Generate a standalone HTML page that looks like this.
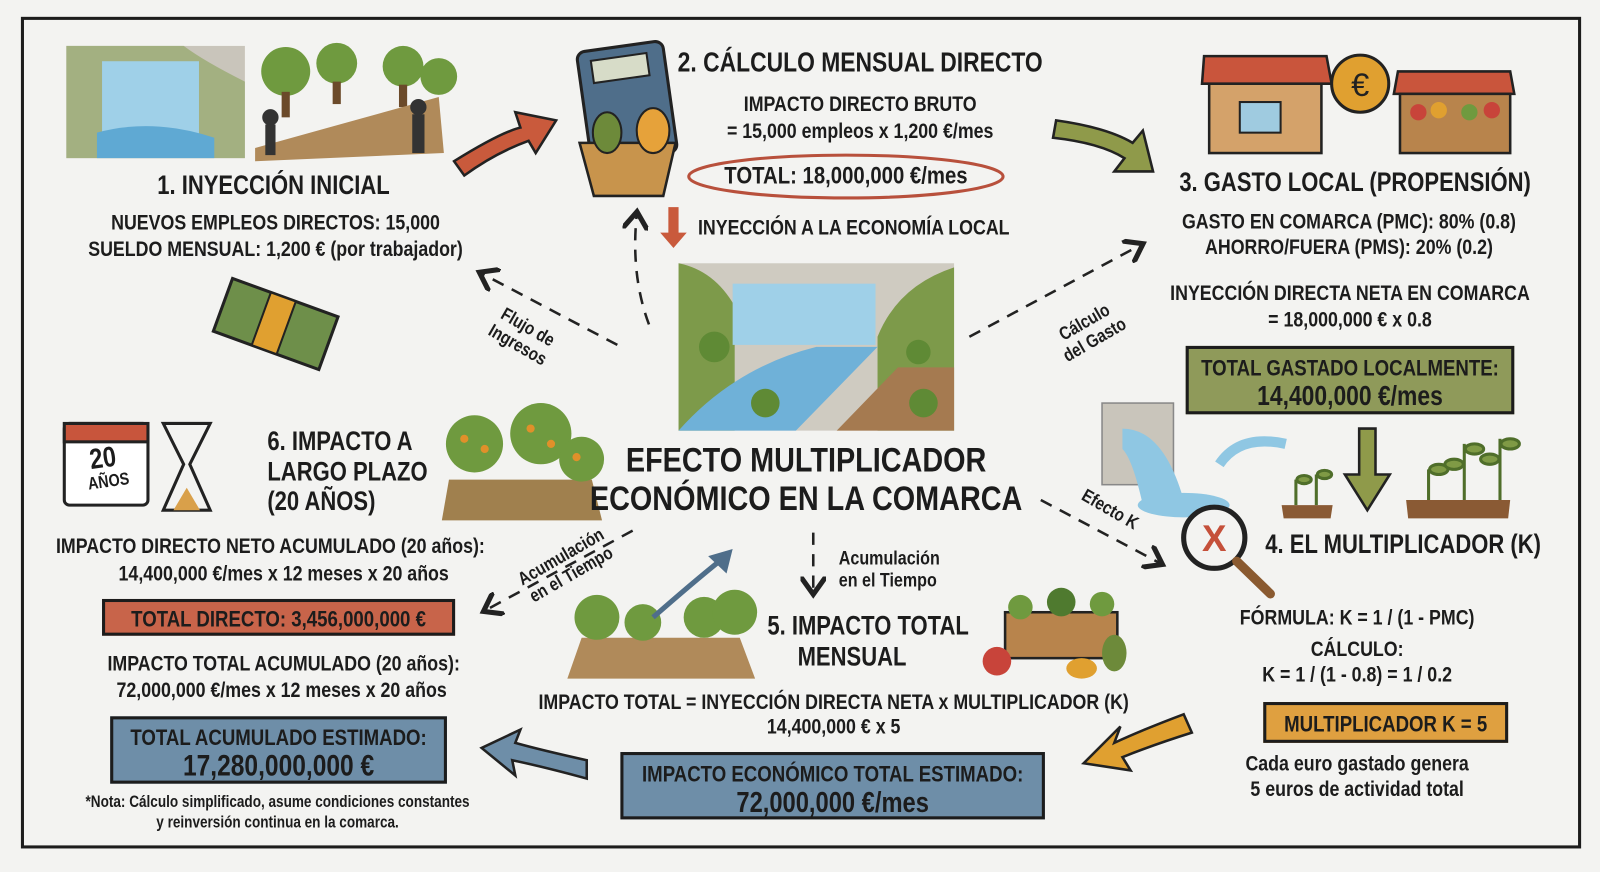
<!DOCTYPE html>
<html><head><meta charset="utf-8">
<style>
html,body{margin:0;padding:0;}
body{width:1600px;height:872px;background:#f3f3f1;position:relative;overflow:hidden;font-family:"Liberation Sans",sans-serif;color:#1c1c1c;}
#w{position:absolute;left:0;top:0;width:1568px;height:855px;transform:scale(1.0204);transform-origin:0 0;}
.t{position:absolute;transform:translateX(-50%) scaleX(.83);white-space:nowrap;font-weight:bold;line-height:1;text-align:center;}
.l{position:absolute;white-space:nowrap;font-weight:bold;line-height:1;transform:scaleX(.83);transform-origin:0 0;}
.box{position:absolute;border:3px solid #1c1c1c;box-sizing:border-box;text-align:center;font-weight:bold;line-height:1.15;white-space:nowrap;}
.box div{transform:scaleX(.83);margin:0 -150px;text-align:center;}
svg{position:absolute;left:0;top:0;}
</style></head><body><div id="w">
<svg width="1568" height="855" viewBox="0 0 1568 855">
<defs>
<marker id="ah" markerWidth="10" markerHeight="10" refX="6" refY="5" orient="auto"><path d="M0,0 L7,5 L0,10" fill="none" stroke="#222" stroke-width="2"/></marker>
</defs>
<rect x="22" y="18" width="1526" height="812" fill="none" stroke="#1c1c1c" stroke-width="3"/>
<rect x="65" y="45" width="175" height="110" fill="#c9c5bb"/>
<path d="M65,45 L65,155 L240,155 L240,80 Q200,60 180,45 Z" fill="#8aa25a" opacity=".6"/>
<rect x="100" y="60" width="95" height="80" fill="#9fd0e8"/>
<path d="M95,130 Q150,115 210,135 L210,155 L95,155Z" fill="#5fa9d3"/>
<circle cx="280" cy="70" r="24" fill="#6f9a3f"/><rect x="276" y="90" width="8" height="25" fill="#6b4a2a"/>
<circle cx="330" cy="62" r="20" fill="#6f9a3f"/><rect x="326" y="80" width="8" height="22" fill="#6b4a2a"/>
<circle cx="395" cy="65" r="20" fill="#6f9a3f"/><rect x="391" y="83" width="8" height="22" fill="#6b4a2a"/>
<circle cx="430" cy="75" r="18" fill="#6f9a3f"/>
<path d="M250,145 L430,95 L435,150 L250,158Z" fill="#b08a5a"/>
<circle cx="265" cy="115" r="8" fill="#333"/><rect x="260" y="122" width="10" height="30" fill="#333"/>
<circle cx="410" cy="105" r="8" fill="#333"/><rect x="404" y="112" width="12" height="38" fill="#333"/>
<path d="M445,158 Q490,130 510,125 L505,110 L545,118 L525,150 L518,138 Q485,150 455,172 Z" fill="#c95a3c" stroke="#222" stroke-width="2.5"/>
<rect x="572" y="45" width="85" height="110" rx="8" fill="#4f6e8a" stroke="#222" stroke-width="3" transform="rotate(-8 615 100)"/>
<rect x="585" y="55" width="55" height="22" fill="#d7dcc8" stroke="#222" stroke-width="2" transform="rotate(-8 615 100)"/>
<path d="M568,140 L662,140 L650,192 L582,192Z" fill="#c8944c" stroke="#222" stroke-width="2.5"/>
<ellipse cx="595" cy="130" rx="14" ry="20" fill="#6d8a3a" stroke="#222" stroke-width="2"/>
<ellipse cx="640" cy="128" rx="16" ry="22" fill="#e6a23a" stroke="#222" stroke-width="2"/>
<ellipse cx="829" cy="173" rx="154" ry="21" fill="none" stroke="#b8503c" stroke-width="3"/>
<path d="M655,203 L665,203 L665,228 L673,228 L660,243 L647,228 L655,228Z" fill="#c95a3c"/>
<path d="M1035,118 Q1085,125 1110,140 L1120,128 L1130,168 L1092,168 L1102,155 Q1078,140 1032,135 Z" fill="#8f9a4a" stroke="#222" stroke-width="2.5"/>
<rect x="1185" y="80" width="110" height="70" fill="#d4a26a" stroke="#222" stroke-width="2.5"/>
<path d="M1180,55 L1300,55 L1305,82 L1178,82Z" fill="#c9553c" stroke="#222" stroke-width="2.5"/>
<rect x="1215" y="100" width="40" height="30" fill="#9fcbe0" stroke="#222" stroke-width="2"/>
<circle cx="1333" cy="82" r="28" fill="#e0a030" stroke="#222" stroke-width="3"/>
<text x="1333" y="94" font-family="Liberation Sans" font-size="32" text-anchor="middle" fill="#222">€</text>
<path d="M1370,70 L1480,70 L1484,92 L1366,92Z" fill="#c9553c" stroke="#222" stroke-width="2.5"/>
<rect x="1372" y="92" width="108" height="58" fill="#b8844c" stroke="#222" stroke-width="2.5"/>
<circle cx="1390" cy="110" r="8" fill="#c8443a"/><circle cx="1410" cy="108" r="8" fill="#e0a030"/><circle cx="1440" cy="110" r="8" fill="#6f9a3f"/><circle cx="1462" cy="108" r="8" fill="#c8443a"/>
<g transform="rotate(20 270 318)"><rect x="215" y="290" width="110" height="55" fill="#6e8f4a" stroke="#222" stroke-width="3"/><rect x="255" y="290" width="26" height="55" fill="#e0a030" stroke="#222" stroke-width="2"/></g>
<rect x="665" y="258" width="270" height="164" fill="#cfcbc1"/>
<path d="M665,258 Q700,265 720,300 L720,422 L665,422Z" fill="#7d9a4a"/>
<path d="M935,262 Q880,280 860,330 L860,422 L935,422Z" fill="#7d9a4a"/>
<rect x="718" y="278" width="140" height="60" fill="#9fd0e8"/>
<path d="M665,422 Q720,360 800,340 L860,340 L780,422Z" fill="#6fb1d8"/>
<path d="M820,422 L880,360 L935,360 L935,422Z" fill="#a57a50"/>
<circle cx="700" cy="340" r="15" fill="#5f8a35"/><circle cx="750" cy="395" r="14" fill="#5f8a35"/><circle cx="900" cy="345" r="12" fill="#5f8a35"/><circle cx="905" cy="395" r="14" fill="#5f8a35"/>
<g stroke="#222" stroke-width="2.5" fill="none" stroke-dasharray="12,9" marker-end="url(#ah)">
<path d="M605,338 L472,268"/>
<path d="M636,318 Q618,270 624,210"/>
<path d="M950,330 L1118,240"/>
<path d="M1020,490 L1137,552"/>
<path d="M620,520 L476,598"/>
<path d="M797,522 L797,580"/>
</g>
<rect x="1080" y="395" width="70" height="80" fill="#c9c5bb" stroke="#888" stroke-width="1.5"/>
<path d="M1100,420 Q1140,420 1160,490 L1120,495 Q1110,450 1100,440Z" fill="#8fc7e3"/>
<ellipse cx="1160" cy="495" rx="45" ry="12" fill="#8fc7e3"/>
<path d="M1195,455 Q1215,425 1260,435" stroke="#8fc7e3" stroke-width="10" fill="none"/>
<path d="M1256,495 L1306,495 L1304,508 L1258,508Z" fill="#8a5a34"/>
<path d="M1378,490 L1480,490 L1478,508 L1380,508Z" fill="#8a5a34"/>
<g stroke="#4f6e2a" stroke-width="3" fill="#7f9a45"><path d="M1270,495 v-25"/><path d="M1290,495 v-30"/><path d="M1400,490 v-30"/><path d="M1435,490 v-55"/><path d="M1470,490 v-60"/>
<ellipse cx="1278" cy="470" rx="7" ry="4"/><ellipse cx="1298" cy="465" rx="7" ry="4"/><ellipse cx="1410" cy="460" rx="9" ry="5"/><ellipse cx="1445" cy="440" rx="9" ry="5"/><ellipse cx="1480" cy="435" rx="9" ry="5"/><ellipse cx="1425" cy="455" rx="9" ry="5"/><ellipse cx="1460" cy="450" rx="9" ry="5"/></g>
<path d="M1332,420 L1348,420 L1348,465 L1362,465 L1340,500 L1318,465 L1332,465Z" fill="#8f9a4a" stroke="#222" stroke-width="2.5"/>
<circle cx="1190" cy="527" r="30" fill="#f3f3f1" stroke="#222" stroke-width="5"/>
<text x="1190" y="540" font-family="Liberation Sans" font-weight="bold" font-size="36" text-anchor="middle" fill="#c5503a">X</text>
<path d="M1212,550 L1245,582" stroke="#8a5a30" stroke-width="9" stroke-linecap="round"/>
<path d="M1160,700 Q1120,715 1092,728 L1098,712 L1062,748 L1108,755 L1100,742 Q1130,730 1168,718Z" fill="#e0a030" stroke="#222" stroke-width="2.5"/>
<path d="M575,745 Q530,735 505,728 L510,715 L472,733 L505,760 L502,745 Q535,752 575,763Z" fill="#6e8ea8" stroke="#222" stroke-width="2.5"/>
<path d="M556,665 L740,665 L725,625 L570,625Z" fill="#b08a5a"/>
<circle cx="585" cy="605" r="22" fill="#6f9a3f"/><circle cx="630" cy="610" r="18" fill="#6f9a3f"/><circle cx="690" cy="605" r="20" fill="#6f9a3f"/><circle cx="720" cy="600" r="22" fill="#6f9a3f"/>
<path d="M640,605 Q680,570 705,550" stroke="#4f6e8a" stroke-width="5" fill="none"/><path d="M694,545 L718,538 L712,562Z" fill="#4f6e8a"/>
<rect x="985" y="600" width="110" height="45" fill="#b8844c" stroke="#222" stroke-width="2.5"/>
<circle cx="1000" cy="595" r="12" fill="#6f9a3f"/><circle cx="1040" cy="590" r="14" fill="#4f7a2f"/><circle cx="1080" cy="592" r="12" fill="#6f9a3f"/>
<circle cx="977" cy="648" r="14" fill="#c8443a"/><ellipse cx="1092" cy="640" rx="12" ry="18" fill="#6d8a3a"/><ellipse cx="1060" cy="655" rx="15" ry="10" fill="#e0a030"/>
<rect x="63" y="415" width="82" height="80" rx="5" fill="#fff" stroke="#222" stroke-width="3"/>
<rect x="63" y="415" width="82" height="18" fill="#c8553c" stroke="#222" stroke-width="3"/>
<path d="M160,415 L206,415 L186,455 L206,500 L160,500 L180,455Z" fill="#f3f3f1" stroke="#222" stroke-width="3"/>
<path d="M170,500 L196,500 L183,478Z" fill="#d9a04a"/>
<path d="M433,510 L590,510 L580,470 L440,470Z" fill="#a0804e"/>
<circle cx="465" cy="435" r="28" fill="#6f9a3f"/><circle cx="530" cy="425" r="30" fill="#6f9a3f"/><circle cx="570" cy="450" r="22" fill="#6f9a3f"/>
<g fill="#e0902a"><circle cx="455" cy="430" r="4"/><circle cx="475" cy="440" r="4"/><circle cx="520" cy="420" r="4"/><circle cx="540" cy="435" r="4"/><circle cx="565" cy="448" r="4"/></g>
</svg>

<div class="t" style="left:268px;top:168px;font-size:26px;">1. INYECCIÓN INICIAL</div>
<div class="t" style="left:270px;top:208px;font-size:21px;">NUEVOS EMPLEOS DIRECTOS: 15,000</div>
<div class="t" style="left:270px;top:234px;font-size:21px;">SUELDO MENSUAL: 1,200 € (por trabajador)</div>
<div class="t" style="left:843px;top:48px;font-size:27px;">2. CÁLCULO MENSUAL DIRECTO</div>
<div class="t" style="left:843px;top:92px;font-size:21px;">IMPACTO DIRECTO BRUTO</div>
<div class="t" style="left:843px;top:118px;font-size:21px;">= 15,000 empleos x 1,200 €/mes</div>
<div class="t" style="left:829px;top:161px;font-size:24px;">TOTAL: 18,000,000 €/mes</div>
<div class="l" style="left:684px;top:213px;font-size:21px;">INYECCIÓN A LA ECONOMÍA LOCAL</div>
<div class="t" style="left:1328px;top:165px;font-size:26px;">3. GASTO LOCAL (PROPENSIÓN)</div>
<div class="t" style="left:1322px;top:207px;font-size:21px;">GASTO EN COMARCA (PMC): 80% (0.8)</div>
<div class="t" style="left:1322px;top:232px;font-size:21px;">AHORRO/FUERA (PMS): 20% (0.2)</div>
<div class="t" style="left:1323px;top:277px;font-size:21px;">INYECCIÓN DIRECTA NETA EN COMARCA</div>
<div class="t" style="left:1323px;top:303px;font-size:21px;">= 18,000,000 € x 0.8</div>
<div class="box" style="left:1162px;top:339px;width:322px;height:67px;background:#8f9a5a;padding-top:6px;"><div style="font-size:22px;">TOTAL GASTADO LOCALMENTE:</div><div style="font-size:27px;">14,400,000 €/mes</div></div>
<div class="l" style="left:1240px;top:520px;font-size:26px;">4. EL MULTIPLICADOR (K)</div>
<div class="t" style="left:1330px;top:595px;font-size:21px;">FÓRMULA: K = 1 / (1 - PMC)</div>
<div class="t" style="left:1330px;top:626px;font-size:21px;">CÁLCULO:</div>
<div class="t" style="left:1330px;top:651px;font-size:21px;">K = 1 / (1 - 0.8) = 1 / 0.2</div>
<div class="box" style="left:1238px;top:688px;width:240px;height:40px;background:#dfa040;padding-top:6px;"><div style="font-size:22px;">MULTIPLICADOR K = 5</div></div>
<div class="t" style="left:1330px;top:738px;font-size:21px;">Cada euro gastado genera</div>
<div class="t" style="left:1330px;top:763px;font-size:21px;">5 euros de actividad total</div>
<div class="t" style="left:790px;top:434px;font-size:34px;">EFECTO MULTIPLICADOR</div>
<div class="t" style="left:790px;top:472px;font-size:34px;">ECONÓMICO EN LA COMARCA</div>
<div class="l" style="left:752px;top:600px;font-size:26px;">5. IMPACTO TOTAL</div>
<div class="t" style="left:835px;top:630px;font-size:26px;">MENSUAL</div>
<div class="t" style="left:817px;top:678px;font-size:21px;">IMPACTO TOTAL = INYECCIÓN DIRECTA NETA x MULTIPLICADOR (K)</div>
<div class="t" style="left:817px;top:702px;font-size:21px;">14,400,000 € x 5</div>
<div class="box" style="left:608px;top:737px;width:416px;height:66px;background:#6e8ea8;padding-top:6px;"><div style="font-size:22px;">IMPACTO ECONÓMICO TOTAL ESTIMADO:</div><div style="font-size:28px;">72,000,000 €/mes</div></div>
<div class="l" style="left:262px;top:419px;font-size:26px;">6. IMPACTO A</div>
<div class="l" style="left:262px;top:449px;font-size:26px;">LARGO PLAZO</div>
<div class="l" style="left:262px;top:478px;font-size:26px;">(20 AÑOS)</div>
<div class="l" style="left:86px;top:437px;font-size:28px;transform:rotate(-8deg) scaleX(.83);">20</div>
<div class="l" style="left:85px;top:466px;font-size:17px;transform:rotate(-8deg) scaleX(.83);">AÑOS</div>
<div class="t" style="left:265px;top:525px;font-size:21px;">IMPACTO DIRECTO NETO ACUMULADO (20 años):</div>
<div class="t" style="left:278px;top:552px;font-size:21px;">14,400,000 €/mes x 12 meses x 20 años</div>
<div class="box" style="left:100px;top:587px;width:346px;height:36px;background:#c8644a;padding-top:4px;"><div style="font-size:22px;">TOTAL DIRECTO: 3,456,000,000 €</div></div>
<div class="t" style="left:278px;top:640px;font-size:21px;">IMPACTO TOTAL ACUMULADO (20 años):</div>
<div class="t" style="left:276px;top:666px;font-size:21px;">72,000,000 €/mes x 12 meses x 20 años</div>
<div class="box" style="left:108px;top:702px;width:330px;height:66px;background:#6e8ea8;padding-top:5px;"><div style="font-size:22px;">TOTAL ACUMULADO ESTIMADO:</div><div style="font-size:29px;">17,280,000,000 €</div></div>
<div class="t" style="left:272px;top:779px;font-size:16px;">*Nota: Cálculo simplificado, asume condiciones constantes</div>
<div class="t" style="left:272px;top:799px;font-size:16px;">y reinversión continua en la comarca.</div>
<div class="t" style="left:512px;top:310px;font-size:18px;transform:translateX(-50%) rotate(30deg) scaleX(.83);line-height:1.1;">Flujo de<br>Ingresos</div>
<div class="t" style="left:1068px;top:305px;font-size:18px;transform:translateX(-50%) rotate(-30deg) scaleX(.83);line-height:1.1;">Cálculo<br>del Gasto</div>
<div class="t" style="left:1088px;top:490px;font-size:18px;transform:translateX(-50%) rotate(30deg) scaleX(.83);">Efecto K</div>
<div class="t" style="left:555px;top:535px;font-size:18px;transform:translateX(-50%) rotate(-30deg) scaleX(.83);line-height:1.1;">Acumulación<br>en el Tiempo</div>
<div class="l" style="left:822px;top:537px;font-size:19px;line-height:1.15;">Acumulación<br>en el Tiempo</div>
</div></body></html>
